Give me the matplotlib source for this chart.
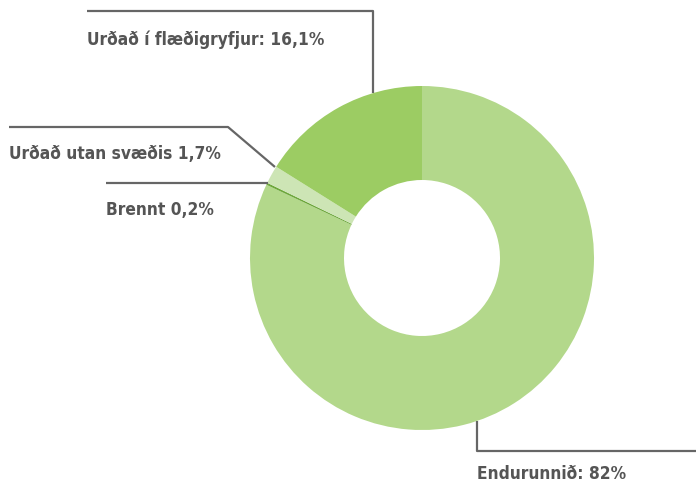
import numpy as np
import matplotlib
matplotlib.use("Agg")
import matplotlib.pyplot as plt

# Data (shares in %)
labels = ["Endurunnið", "Brennt", "Urðað utan svæðis", "Urðað í flæðigryfjur"]
values = [82, 0.2, 1.7, 16.1]
label_texts = ["Endurunnið: 82%", "Brennt 0,2%", "Urðað utan svæðis 1,7%", "Urðað í flæðigryfjur: 16,1%"]
colors = ["#b3d88b", "#6ea83c", "#cde5b5", "#9ccc63"]

W, H = 696, 484
plt.rcParams['font.family'] = ['DejaVu Sans']

fig = plt.figure(figsize=(W / 100, H / 100), dpi=100)
ax = fig.add_axes([0, 0, 1, 1])
ax.set_xlim(0, W)
ax.set_ylim(0, H)
ax.set_aspect('equal')
ax.axis('off')

# pixel helper: y measured from the top of the picture
def py(y):
    return H - y

cx, cy, r = 422, 258, 172
ax.pie(values, colors=colors, startangle=90, counterclock=False,
       center=(cx, py(cy)), radius=r,
       wedgeprops=dict(width=94, linewidth=0))
ax.set_xlim(0, W)
ax.set_ylim(0, H)

line_kw = dict(color="#666666", lw=1.6, solid_capstyle='butt')
txt_kw = dict(color="#555555", fontsize=12.4, fontweight='bold', fontstretch='condensed',
              va='center', ha='left')

# Urðað í flæðigryfjur
ax.plot([87, 373, 373], [py(11), py(11), py(93)], **line_kw)
ax.text(87, py(40), label_texts[3], **txt_kw)
# Urðað utan svæðis
ax.plot([9, 228, 275], [py(127), py(127), py(167)], **line_kw)
ax.text(9, py(154), label_texts[2], **txt_kw)
# Brennt
ax.plot([106, 268], [py(183), py(183)], **line_kw)
ax.text(106, py(210), label_texts[1], **txt_kw)
# Endurunnið
ax.plot([477, 477, 696], [py(421), py(451), py(451)], **line_kw)
ax.text(477, py(474), label_texts[0], **txt_kw)

fig.savefig("out.png", dpi=100)
